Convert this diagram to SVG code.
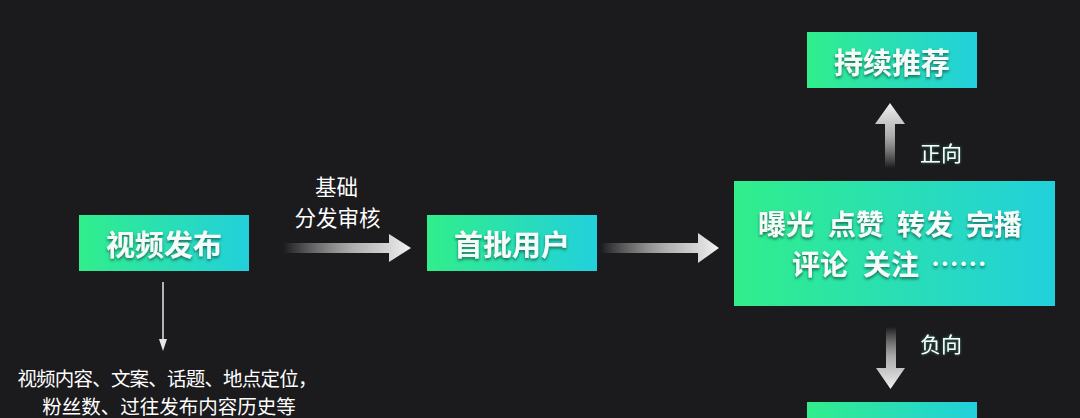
<svg xmlns="http://www.w3.org/2000/svg" width="1080" height="418" viewBox="0 0 1080 418">
  <defs>
    <linearGradient id="boxGrad" x1="0" y1="0" x2="1" y2="0">
      <stop offset="0" stop-color="#31ee8b"/>
      <stop offset="1" stop-color="#22d0dc"/>
    </linearGradient>
    <linearGradient id="arrH1" gradientUnits="userSpaceOnUse" x1="283" y1="0" x2="411" y2="0">
      <stop offset="0" stop-color="#ffffff" stop-opacity="0"/>
      <stop offset="0.55" stop-color="#c8c8c8" stop-opacity="0.85"/>
      <stop offset="1" stop-color="#f2f2f2"/>
    </linearGradient>
    <linearGradient id="arrH2" gradientUnits="userSpaceOnUse" x1="600" y1="0" x2="719" y2="0">
      <stop offset="0" stop-color="#ffffff" stop-opacity="0"/>
      <stop offset="0.55" stop-color="#c8c8c8" stop-opacity="0.85"/>
      <stop offset="1" stop-color="#f2f2f2"/>
    </linearGradient>
    <linearGradient id="arrUp" gradientUnits="userSpaceOnUse" x1="0" y1="168" x2="0" y2="103">
      <stop offset="0" stop-color="#ffffff" stop-opacity="0"/>
      <stop offset="0.5" stop-color="#c8c8c8" stop-opacity="0.85"/>
      <stop offset="1" stop-color="#f2f2f2"/>
    </linearGradient>
    <linearGradient id="arrDown" gradientUnits="userSpaceOnUse" x1="0" y1="327" x2="0" y2="389">
      <stop offset="0" stop-color="#ffffff" stop-opacity="0"/>
      <stop offset="0.5" stop-color="#c8c8c8" stop-opacity="0.85"/>
      <stop offset="1" stop-color="#f2f2f2"/>
    </linearGradient>
    <filter id="txtShadow" x="-20%" y="-30%" width="140%" height="170%">
      <feDropShadow dx="0" dy="2" stdDeviation="1.5" flood-color="#0b4a3a" flood-opacity="0.75"/>
    </filter>
    <filter id="glow" x="-20%" y="-30%" width="140%" height="160%">
      <feDropShadow dx="0" dy="0" stdDeviation="1.5" flood-color="#2fd3a0" flood-opacity="0.6"/>
    </filter>
  </defs>
  <style>
    .box { fill: url(#boxGrad); }
    .btxt { font-family: "Noto Sans CJK SC", "Noto Sans", sans-serif; font-weight: 700; fill: #f4fbf8; filter: url(#txtShadow); dominant-baseline: central; }
    .lbl { font-family: "Noto Sans CJK SC", "Noto Sans", sans-serif; font-weight: 400; fill: #ffffff; dominant-baseline: central; }
  </style>
  <rect width="1080" height="418" fill="#1b1a1c"/>

  <g id="connectors">
    <path d="M283,243 H389 V234 L411,248 L389,262 V253 H283 Z" fill="url(#arrH1)"/>
    <path d="M600,243 H698 V233 L719,248 L698,263 V253 H600 Z" fill="url(#arrH2)"/>
    <path d="M885,168 V124 H875 L890,103 L905,124 H895 V168 Z" fill="url(#arrUp)"/>
    <path d="M886,327 V368 H876 L890.5,389 L905,368 H896 V327 Z" fill="url(#arrDown)"/>
    <line x1="163" y1="282" x2="163" y2="342" stroke="#e6e6e6" stroke-width="1.5"/>
    <polygon points="159,339 167,339 163,351" fill="#e6e6e6"/>
    <g class="lbl" font-size="21.5">
      <text x="336.5" y="185" text-anchor="middle">基础</text>
      <text x="337.5" y="216" text-anchor="middle">分发审核</text>
    </g>
    <g class="lbl" font-size="21" filter="url(#glow)">
      <text x="941" y="152" text-anchor="middle">正向</text>
      <text x="941" y="343" text-anchor="middle">负向</text>
    </g>
  </g>

  <g id="node-publish">
    <rect class="box" x="79" y="215" width="170" height="56"/>
    <text class="btxt" x="164" y="243" font-size="29" text-anchor="middle">视频发布</text>
  </g>

  <g id="node-first-users">
    <rect class="box" x="427" y="215" width="170" height="56"/>
    <text class="btxt" x="512" y="243" font-size="29" text-anchor="middle">首批用户</text>
  </g>

  <g id="node-metrics">
    <rect class="box" x="734" y="181" width="321" height="125"/>
    <g class="btxt" font-size="28">
      <text x="758" y="223">曝光</text>
      <text x="828" y="223">点赞</text>
      <text x="897" y="223">转发</text>
      <text x="966" y="223">完播</text>
      <text x="792" y="263">评论</text>
      <text x="863" y="263">关注</text>
      <text x="931" y="263">……</text>
    </g>
  </g>

  <g id="node-continue">
    <rect class="box" x="807" y="32" width="170" height="56"/>
    <text class="btxt" x="892" y="61" font-size="29" text-anchor="middle">持续推荐</text>
  </g>

  <g id="node-negative">
    <rect class="box" x="807" y="402" width="170" height="56"/>
  </g>

  <g id="note">
    <g class="lbl" font-size="19.5">
      <text x="167" y="377" text-anchor="middle" letter-spacing="-0.8">视频内容、文案、话题、地点定位，</text>
      <text x="169" y="405" text-anchor="middle">粉丝数、过往发布内容历史等</text>
    </g>
  </g>
</svg>
